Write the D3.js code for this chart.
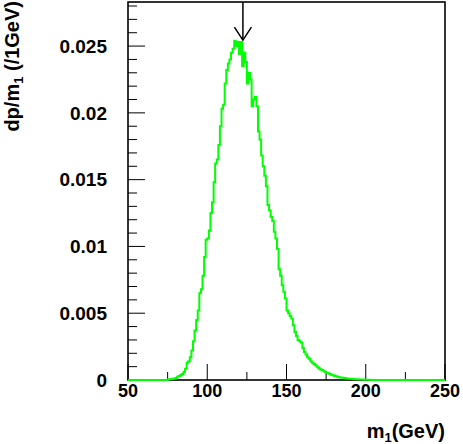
<!DOCTYPE html>
<html>
<head>
<meta charset="utf-8">
<script src="https://cdn.jsdelivr.net/npm/d3@7"></script>
<style>
  body { margin: 0; background: #fff; }
  text { font-family: "Liberation Sans", Arial, sans-serif; font-weight: bold; }
</style>
</head>
<body>
<div id="chart"></div>
<script>
// histogram: 1 GeV bins from 50 to 250
const binStart = 50;
const binWidth = 1;
const density = [
  0, 0, 0, 0, 0, 0, 0, 0, 0, 0,
  0, 0, 0, 0, 0, 0, 0, 0, 0, 0,
  0, 0, 0, 0, 0, 0.00003, 0.00005, 0.00008, 0.0001, 0.00012,
  0.00015, 0.00025, 0.0003, 0.00038, 0.00045, 0.0006, 0.00085, 0.0013, 0.0014, 0.0017,
  0.0022, 0.0029, 0.0037, 0.0045, 0.0052, 0.0065, 0.0068, 0.0078, 0.0092, 0.0105,
  0.0106, 0.0112, 0.0125, 0.0133, 0.0148, 0.0162, 0.0165, 0.0176, 0.019, 0.0203,
  0.0206, 0.0222, 0.0232, 0.0237, 0.024, 0.0245, 0.0248, 0.0254, 0.025, 0.0253,
  0.0244, 0.0253, 0.0235, 0.0245, 0.0238, 0.0222, 0.023, 0.0225, 0.0205, 0.021,
  0.0212, 0.0205, 0.0186, 0.018, 0.0168, 0.016, 0.0153, 0.0145, 0.0131, 0.0127,
  0.0122, 0.0119, 0.0111, 0.0106, 0.0098, 0.0083, 0.0078, 0.0071, 0.0066, 0.0061,
  0.0052, 0.005, 0.0048, 0.0046, 0.0041, 0.0036, 0.0033, 0.003, 0.0029, 0.0028,
  0.0024, 0.0021, 0.0019, 0.0017, 0.0016, 0.0014, 0.0013, 0.0012, 0.0011, 0.001,
  0.0009, 0.0008, 0.00075, 0.0007, 0.0006, 0.00055, 0.0005, 0.00045, 0.0004, 0.00035,
  0.0003, 0.00028, 0.00025, 0.0002, 0.00018, 0.00016, 0.00015, 0.00013, 0.00012, 0.0001,
  0.0001, 0.00009, 0.00008, 0.00006, 0.00005, 0.00005, 0.00004, 0.00003, 0.00003, 0.00002,
  0.00002, 0.00001, 0.00001, 0, 0, 0, 0, 0, 0, 0,
  0, 0, 0, 0, 0, 0, 0, 0, 0, 0,
  0, 0, 0, 0, 0, 0, 0, 0, 0, 0,
  0, 0, 0, 0, 0, 0, 0, 0, 0, 0,
  0, 0, 0, 0, 0, 0, 0, 0, 0, 0
];

const xTicks = [50, 100, 150, 200, 250];
const xMinorTicks = [75, 125, 175, 225];
const yTicks = [0, 0.005, 0.01, 0.015, 0.02, 0.025];
const yTickLabels = ['0', '0.005', '0.01', '0.015', '0.02', '0.025'];
const markerMass = 122.5;

const width = 463;
const height = 444;

const svg = d3.select('#chart')
  .append('svg')
  .attr('width', width)
  .attr('height', height);

const x = d3.scaleLinear().domain([50, 250]).range([128, 445]);
const y = d3.scaleLinear().domain([0, 0.0283]).range([380, 2]);

// frame
svg.append('rect')
  .attr('x', x(50))
  .attr('y', y(0.0283))
  .attr('width', x(250) - x(50))
  .attr('height', y(0) - y(0.0283))
  .attr('fill', 'none')
  .attr('stroke', '#000')
  .attr('stroke-width', 1.6);

// x ticks
const xAxis = svg.append('g');
xAxis.selectAll('line.major')
  .data(xTicks)
  .join('line')
  .attr('class', 'major')
  .attr('x1', d => x(d)).attr('x2', d => x(d))
  .attr('y1', y(0)).attr('y2', y(0) - 16)
  .attr('stroke', '#000');
xAxis.selectAll('line.minor')
  .data(xMinorTicks)
  .join('line')
  .attr('class', 'minor')
  .attr('x1', d => x(d)).attr('x2', d => x(d))
  .attr('y1', y(0)).attr('y2', y(0) - 8)
  .attr('stroke', '#000');
xAxis.selectAll('text')
  .data(xTicks)
  .join('text')
  .attr('x', d => x(d))
  .attr('y', 397)
  .attr('text-anchor', 'middle')
  .attr('font-size', 18)
  .text(d => d);

// y ticks
const yMinor = d3.range(0, 0.0285, 0.001).filter((d, i) => i % 5 !== 0);
const yAxis = svg.append('g');
yAxis.selectAll('line.major')
  .data(yTicks)
  .join('line')
  .attr('class', 'major')
  .attr('x1', x(50)).attr('x2', x(50) + 17)
  .attr('y1', d => y(d)).attr('y2', d => y(d))
  .attr('stroke', '#000');
yAxis.selectAll('line.minor')
  .data(yMinor)
  .join('line')
  .attr('class', 'minor')
  .attr('x1', x(50)).attr('x2', x(50) + 9)
  .attr('y1', d => y(d)).attr('y2', d => y(d))
  .attr('stroke', '#000');
yAxis.selectAll('text')
  .data(yTicks)
  .join('text')
  .attr('x', 107)
  .attr('y', d => y(d))
  .attr('dy', '0.35em')
  .attr('text-anchor', 'end')
  .attr('font-size', 19)
  .text((d, i) => yTickLabels[i]);

// histogram
const points = density.map((v, i) => [binStart + i * binWidth, v]);
points.push([binStart + density.length * binWidth, density[density.length - 1]]);
const line = d3.line()
  .x(d => x(d[0]))
  .y(d => y(d[1]))
  .curve(d3.curveStepAfter);
svg.append('path')
  .datum(points)
  .attr('d', line)
  .attr('fill', 'none')
  .attr('stroke', '#00ff00')
  .attr('stroke-width', 2);

// arrow
const ax = x(markerMass);
const tip = y(0.02545);
svg.append('line')
  .attr('x1', ax).attr('x2', ax)
  .attr('y1', y(0.0283)).attr('y2', tip)
  .attr('stroke', '#000').attr('stroke-width', 1.5);
svg.append('path')
  .attr('d', `M${ax - 8.5},${tip - 13}L${ax},${tip}L${ax + 8.5},${tip - 13}`)
  .attr('fill', 'none')
  .attr('stroke', '#000')
  .attr('stroke-width', 1.5);

// titles
const xt = svg.append('text')
  .attr('x', 445)
  .attr('y', 438)
  .attr('text-anchor', 'end')
  .attr('font-size', 20);
xt.append('tspan').text('m');
xt.append('tspan').attr('font-size', 13).attr('dy', 4).text('1');
xt.append('tspan').attr('dy', -4).text('(GeV)');

const yt = svg.append('text')
  .attr('transform', 'translate(19,1) rotate(-90)')
  .attr('text-anchor', 'end')
  .attr('font-size', 20);
yt.append('tspan').text('dp/m');
yt.append('tspan').attr('font-size', 13).attr('dy', 4).text('1');
yt.append('tspan').attr('dy', -4).text(' (/1GeV)');
</script>
</body>
</html>
